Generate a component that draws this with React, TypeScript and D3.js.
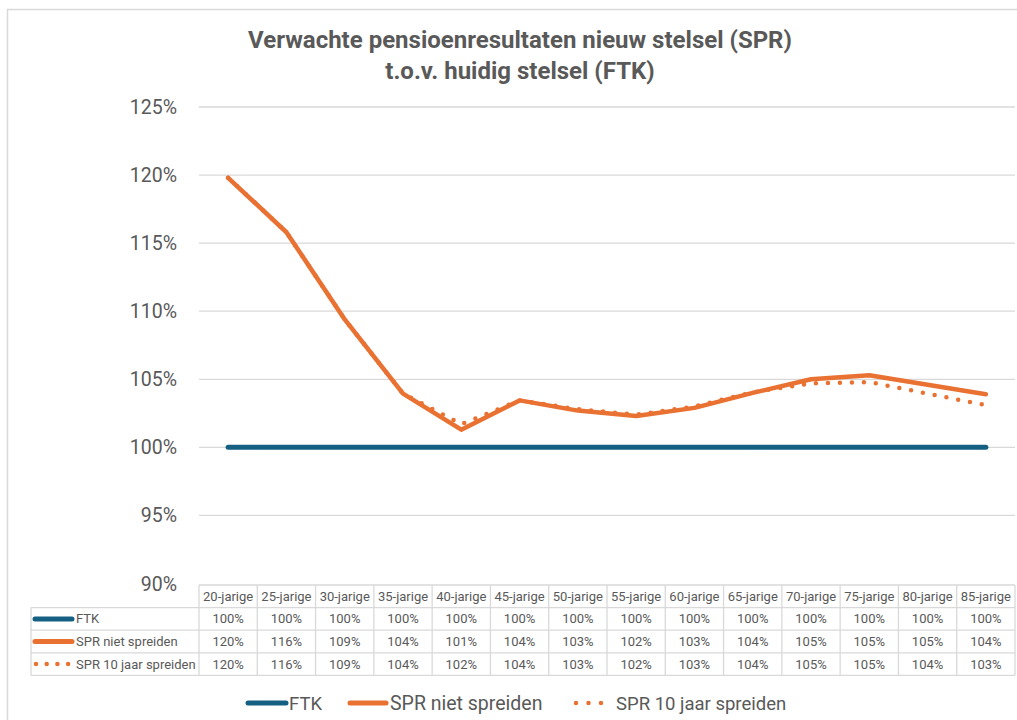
import React from "react";
import * as d3 from "d3";

const categories = ["20-jarige","25-jarige","30-jarige","35-jarige","40-jarige","45-jarige","50-jarige","55-jarige","60-jarige","65-jarige","70-jarige","75-jarige","80-jarige","85-jarige"];
const ftk = [100,100,100,100,100,100,100,100,100,100,100,100,100,100];
const sprNiet = [119.8,115.8,109.4,103.95,101.3,103.45,102.7,102.3,102.9,104.0,105.0,105.3,104.6,103.9];
const spr10 = [119.8,115.8,109.4,103.95,101.7,103.45,102.8,102.4,103.0,104.05,104.7,104.8,103.95,103.1];
const ftkLabels = ["100%","100%","100%","100%","100%","100%","100%","100%","100%","100%","100%","100%","100%","100%"];
const nietLabels = ["120%","116%","109%","104%","101%","104%","103%","102%","103%","104%","105%","105%","105%","104%"];
const spr10Labels = ["120%","116%","109%","104%","102%","104%","103%","102%","103%","104%","105%","105%","104%","103%"];
const yTicks = [90,95,100,105,110,115,120,125];
const seriesNames = ["FTK","SPR niet spreiden","SPR 10 jaar spreiden"];
const titleLines = ["Verwachte pensioenresultaten nieuw stelsel (SPR)","t.o.v. huidig stelsel (FTK)"];

const BLUE = "#156082";
const ORANGE = "#E97132";
const TEXT = "#595959";
const GRID = "#d9d9d9";
const FONT = "Roboto, 'Noto Sans', sans-serif";

export default function App() {
  const x = d3.scaleBand<string>().domain(categories).range([199, 1015]);
  const y = d3.scaleLinear().domain([90, 125]).range([583.5, 107]);
  const cx = (c: string) => (x(c) as number) + x.bandwidth() / 2;
  const line = d3.line<number>().x((_, i) => cx(categories[i])).y(d => y(d));

  const rowTops = [585, 607.6, 630.2, 652.8, 675.4];
  const rowLabels = [ftkLabels, nietLabels, spr10Labels];

  return (
    <svg width={1017} height={720} style={{ position: "absolute", left: 0, top: 0, background: "#fff" }} fontFamily={FONT}>
      <rect x={7.5} y={9.5} width={1030} height={730} fill="#fff" stroke={GRID} strokeWidth={1.5} />
      {titleLines.map((t, i) => (
        <text key={i} x={520} y={48 + i * 31} textAnchor="middle" fontSize={24} fontWeight={700} fill={TEXT}>{t}</text>
      ))}
      {yTicks.map(t => (
        <g key={t}>
          {t > 90 && <line x1={199} x2={1015} y1={y(t)} y2={y(t)} stroke={GRID} strokeWidth={1.3} />}
          <text x={177} y={y(t) + 7} textAnchor="end" fontSize={19.5} fill={TEXT}>{t}%</text>
        </g>
      ))}
      <path d={line(ftk) || ""} fill="none" stroke={BLUE} strokeWidth={5} strokeLinecap="round" strokeLinejoin="round" />
      <path d={line(sprNiet) || ""} fill="none" stroke={ORANGE} strokeWidth={4.5} strokeLinecap="round" strokeLinejoin="round" />
      <path d={line(spr10) || ""} fill="none" stroke={ORANGE} strokeWidth={4.5} strokeLinecap="round" strokeDasharray="0 12" />

      {/* data table */}
      <g stroke={GRID} strokeWidth={1.3}>
        <line x1={199} x2={1015} y1={rowTops[0]} y2={rowTops[0]} />
        {rowTops.slice(1).map((r, i) => <line key={i} x1={31} x2={1015} y1={r} y2={r} />)}
        <line x1={31} x2={31} y1={rowTops[1]} y2={rowTops[4]} />
        {categories.map(c => <line key={c} x1={x(c) as number} x2={x(c) as number} y1={rowTops[0]} y2={rowTops[4]} />)}
        <line x1={1015} x2={1015} y1={rowTops[0]} y2={rowTops[4]} />
      </g>
      {categories.map(c => (
        <text key={c} x={cx(c)} y={(rowTops[0] + rowTops[1]) / 2 + 4.5} textAnchor="middle" fontSize={13} fill={TEXT}>{c}</text>
      ))}
      {rowLabels.map((labels, r) => {
        const mid = (rowTops[r + 1] + rowTops[r + 2]) / 2;
        return (
          <g key={r}>
            {labels.map((l, i) => (
              <text key={i} x={cx(categories[i])} y={mid + 4.5} textAnchor="middle" fontSize={13} fill={TEXT}>{l}</text>
            ))}
            {r === 2 ? (
              <line x1={36} x2={69} y1={mid} y2={mid} stroke={ORANGE} strokeWidth={4.5} strokeLinecap="round" strokeDasharray="0 10.7" />
            ) : (
              <line x1={35} x2={72} y1={mid} y2={mid} stroke={r === 0 ? BLUE : ORANGE} strokeWidth={5} strokeLinecap="round" />
            )}
            <text x={76} y={mid + 4.5} fontSize={13} fill={TEXT}>{seriesNames[r]}</text>
          </g>
        );
      })}

      {/* legend */}
      <line x1={248} x2={286} y1={703} y2={703} stroke={BLUE} strokeWidth={5} strokeLinecap="round" />
      <text x={289} y={709.5} fontSize={18.5} fill={TEXT}>{seriesNames[0]}</text>
      <line x1={350} x2={386} y1={703} y2={703} stroke={ORANGE} strokeWidth={5} strokeLinecap="round" />
      <text x={390} y={709.5} fontSize={19.5} fill={TEXT}>{seriesNames[1]}</text>
      <line x1={576} x2={602} y1={703} y2={703} stroke={ORANGE} strokeWidth={4.5} strokeLinecap="round" strokeDasharray="0 12.5" />
      <text x={616} y={709.5} fontSize={18.5} fill={TEXT}>{seriesNames[2]}</text>
    </svg>
  );
}
